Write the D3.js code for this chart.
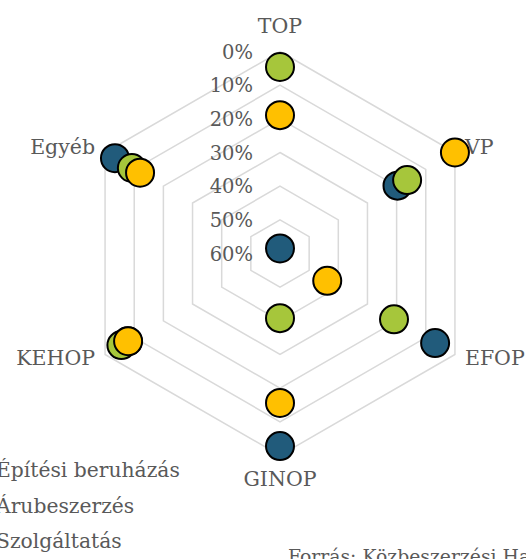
<!DOCTYPE html>
<html>
<head>
<meta charset="utf-8">
<script src="https://cdn.jsdelivr.net/npm/d3@7"></script>
<style>
  body { margin: 0; background: #fff; overflow: hidden; }
  svg { display: block; }
  text { font-family: "DejaVu Serif", serif; fill: #595959; }
</style>
</head>
<body>
<svg id="chart" width="526" height="559"></svg>
<script>
const categories = ["TOP", "VP", "EFOP", "GINOP", "KEHOP", "Egyéb"];
const seriesNames = ["Építési beruházás", "Árubeszerzés", "Szolgáltatás"];
const epitesi = [0.585, 0.197, 0.068, 0.028, 0.078, 0.034];
const arubeszerzes = [0.046, 0.164, 0.209, 0.408, 0.056, 0.092];
const szolgaltatas = [0.189, 0.0, 0.438, 0.156, 0.079, 0.12];
const tickValues = [0, 0.1, 0.2, 0.3, 0.4, 0.5, 0.6];
const sourceText = "Forrás: Közbeszerzési Hatóság";

const colors = ["#215b7b", "#a6c63b", "#ffc000"];
const series = [epitesi, arubeszerzes, szolgaltatas].map((vals, i) => ({
  name: seriesNames[i], color: colors[i],
  points: vals.map((v, j) => ({cat: categories[j], idx: j, value: v}))
}));

const cx = 280, cy = 253.5, R = 202;
const svg = d3.select('#chart');

// reversed radial scale: 0% on the rim, 60% in the middle
const rScale = d3.scaleLinear().domain([0, 0.6]).range([R, 0]);
const angle = d3.scalePoint().domain(categories.concat(['_end'])).range([-Math.PI / 2, 1.5 * Math.PI]);
const px = (cat, v) => cx + rScale(v) * Math.cos(angle(cat));
const py = (cat, v) => cy + rScale(v) * Math.sin(angle(cat));

const grid = svg.append('g').attr('class', 'grid');
grid.selectAll('polygon')
  .data(tickValues.slice(0, -1))
  .join('polygon')
    .attr('points', t => categories.map(c => [px(c, t), py(c, t)].join(',')).join(' '))
    .attr('fill', 'none')
    .attr('stroke', '#d9d9d9')
    .attr('stroke-width', 1.5);

grid.selectAll('text')
  .data(tickValues)
  .join('text')
    .attr('x', cx - 27)
    .attr('y', t => cy - rScale(t) + 7)
    .attr('text-anchor', 'end')
    .attr('font-size', 19.5)
    .text(d3.format('.0%'));

// category labels
const labelPos = {
  TOP: {dx: 0, dy: -19, anchor: 'middle'},
  VP: {dx: 10, dy: 1.5, anchor: 'start'},
  EFOP: {dx: 10, dy: 10.5, anchor: 'start'},
  GINOP: {dx: 0, dy: 30, anchor: 'middle'},
  KEHOP: {dx: -10, dy: 10.5, anchor: 'end'},
  'Egyéb': {dx: -10, dy: 1.5, anchor: 'end'}
};
svg.append('g').selectAll('text')
  .data(categories)
  .join('text')
    .attr('x', c => px(c, 0) + labelPos[c].dx)
    .attr('y', c => py(c, 0) + labelPos[c].dy)
    .attr('text-anchor', c => labelPos[c].anchor)
    .attr('font-size', 20.5)
    .text(c => c);

// markers
const seriesG = svg.append('g').selectAll('g')
  .data(series)
  .join('g')
    .attr('fill', d => d.color);
seriesG.selectAll('circle')
  .data(d => d.points)
  .join('circle')
    .attr('cx', d => px(d.cat, d.value))
    .attr('cy', d => py(d.cat, d.value))
    .attr('r', 14)
    .attr('stroke', '#000')
    .attr('stroke-width', 2);

// legend (markers sit left of the visible area)
const legend = svg.append('g').selectAll('g')
  .data(series)
  .join('g')
    .attr('transform', (d, i) => `translate(-4, ${477 + i * 35.5})`);
legend.append('circle')
  .attr('cx', -18).attr('cy', -7).attr('r', 8)
  .attr('fill', d => d.color).attr('stroke', '#000').attr('stroke-width', 1.5);
legend.append('text')
  .attr('font-size', 20.3)
  .text(d => d.name);

svg.append('text')
  .attr('x', 288).attr('y', 563)
  .attr('font-size', 18.8)
  .text(sourceText);
</script>
</body>
</html>
